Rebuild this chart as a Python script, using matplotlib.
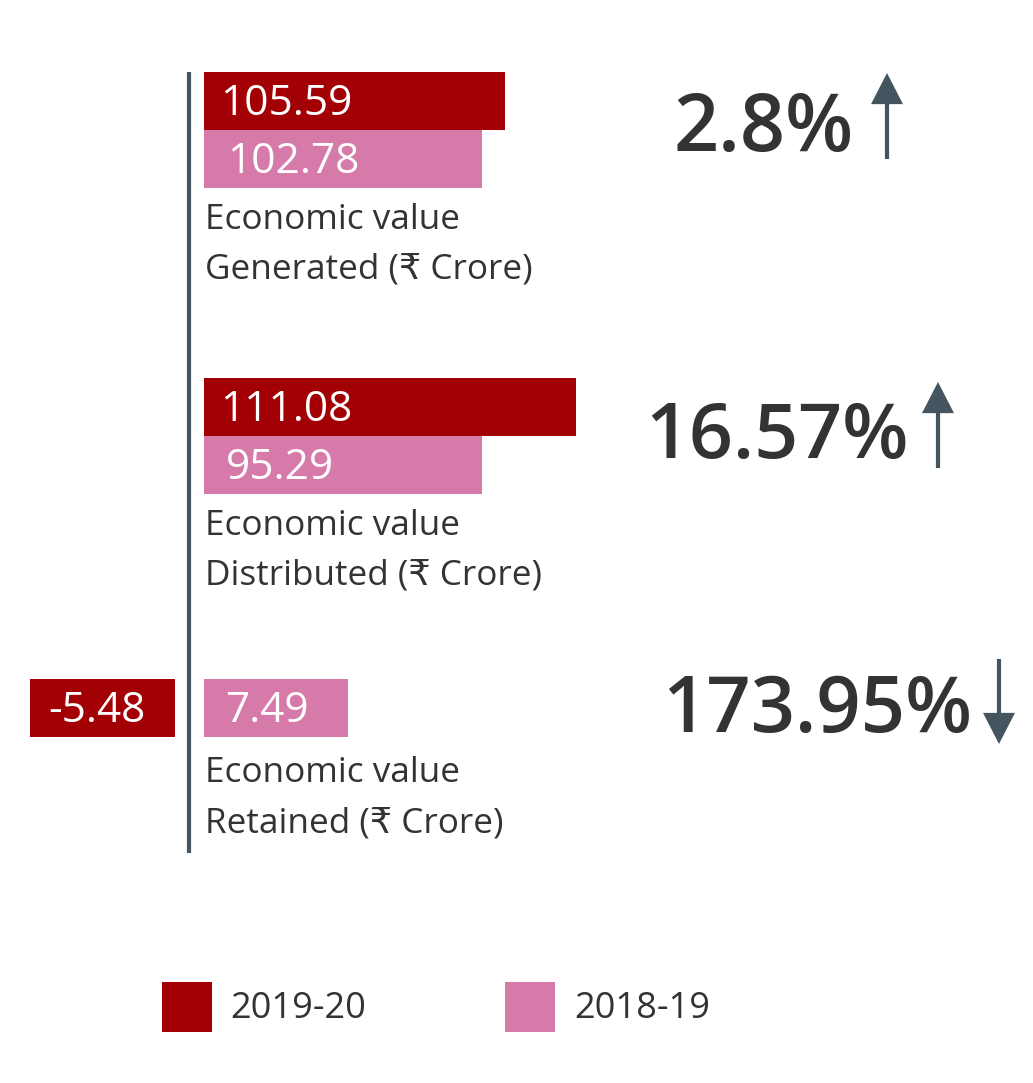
import matplotlib
matplotlib.use("Agg")
import matplotlib.pyplot as plt
from matplotlib.patches import Rectangle

FONT = ['Open Sans', 'DejaVu Sans']
plt.rcParams['font.family'] = FONT

# Chart content
categories = ["Economic value\nGenerated (₹ Crore)",
              "Economic value\nDistributed (₹ Crore)",
              "Economic value\nRetained (₹ Crore)"]
series_names = ["2019-20", "2018-19"]
values_2019 = [105.59, 111.08, -5.48]
values_2018 = [102.78, 95.29, 7.49]
value_labels_2019 = ["105.59", "111.08", "-5.48"]
value_labels_2018 = ["102.78", "95.29", "7.49"]
# Drawn bar lengths (the original is not to scale)
drawn_2019 = [301, 371.5, -144.7]
drawn_2018 = [278, 278, 144.3]
changes = ["2.8%", "16.57%", "173.95%"]
directions = ["up", "up", "down"]

RED = "#a30005"
PINK = "#d67ba9"
SLATE = "#45555f"
DARK = "#333333"

fig = plt.figure(figsize=(10.33, 10.83), dpi=100)
ax = fig.add_axes([0, 0, 1, 1])
ax.set_xlim(0, 1033)
ax.set_ylim(1083, 0)
ax.axis("off")

POS_X0, NEG_X0 = 204, 174.7
BAR_H = 58
row_top_2019 = [72, 378, 679]
row_top_2018 = [130, 436, 679]
label_x_2019 = [220.5, 220.5, 48]
label_x_2018 = [227, 226, 225]
cat_y = [220, 526, 773]
LINE_GAP = 50
change_cx = [763.5, 776.5, 817.5]
change_y = [130, 438, 712]
change_sizes = [57, 55.5, 56]
arrow_x = [887, 938, 999]
arrow_span = [(159, 73), (468, 382), (659, 744)]

for i in range(3):
    w19, w18 = drawn_2019[i], drawn_2018[i]
    left19 = POS_X0 if w19 >= 0 else NEG_X0
    ax.barh(row_top_2019[i] + BAR_H / 2, w19, height=BAR_H, left=left19,
            color=RED, linewidth=0)
    ax.barh(row_top_2018[i] + BAR_H / 2, w18, height=BAR_H, left=POS_X0,
            color=PINK, linewidth=0)
    ax.text(label_x_2019[i], row_top_2019[i] + BAR_H / 2 - 2, value_labels_2019[i],
            color="white", fontsize=30.5, va="center_baseline", ha="left")
    ax.text(label_x_2018[i], row_top_2018[i] + BAR_H / 2 - 2, value_labels_2018[i],
            color="white", fontsize=30.5, va="center_baseline", ha="left")
    first, second = categories[i].split("\n")
    ax.text(205, cat_y[i], first, color=DARK, fontsize=25.3, va="center", ha="left")
    ax.text(205, cat_y[i] + LINE_GAP, second, color=DARK, fontsize=25.3, va="center", ha="left")
    ax.text(change_cx[i], change_y[i], changes[i], color=DARK,
            fontsize=change_sizes[i], fontweight="semibold",
            va="center", ha="center")
    y0, y1 = arrow_span[i]
    ax.annotate("", xy=(arrow_x[i], y1), xytext=(arrow_x[i], y0),
                arrowprops=dict(arrowstyle="-|>,head_length=1.12,head_width=0.575",
                                color=SLATE, lw=0.01, shrinkA=0, shrinkB=0,
                                mutation_scale=20, joinstyle="miter"))
    ax.plot([arrow_x[i], arrow_x[i]], [y0, y1 + (20 if y1 < y0 else -20)],
            color=SLATE, lw=3.0, solid_capstyle="butt")

ax.plot([188.8, 188.8], [72, 853], color=SLATE, lw=3.0, solid_capstyle="butt")

# Legend
for x, c, name, tx in [(162, RED, series_names[0], 230), (505, PINK, series_names[1], 574)]:
    ax.add_patch(Rectangle((x, 982), 50, 50, facecolor=c, edgecolor="none"))
    ax.text(tx, 1009, name, color=DARK, fontsize=26, va="center", ha="left")

fig.savefig("out.png", dpi=100, facecolor="white")
